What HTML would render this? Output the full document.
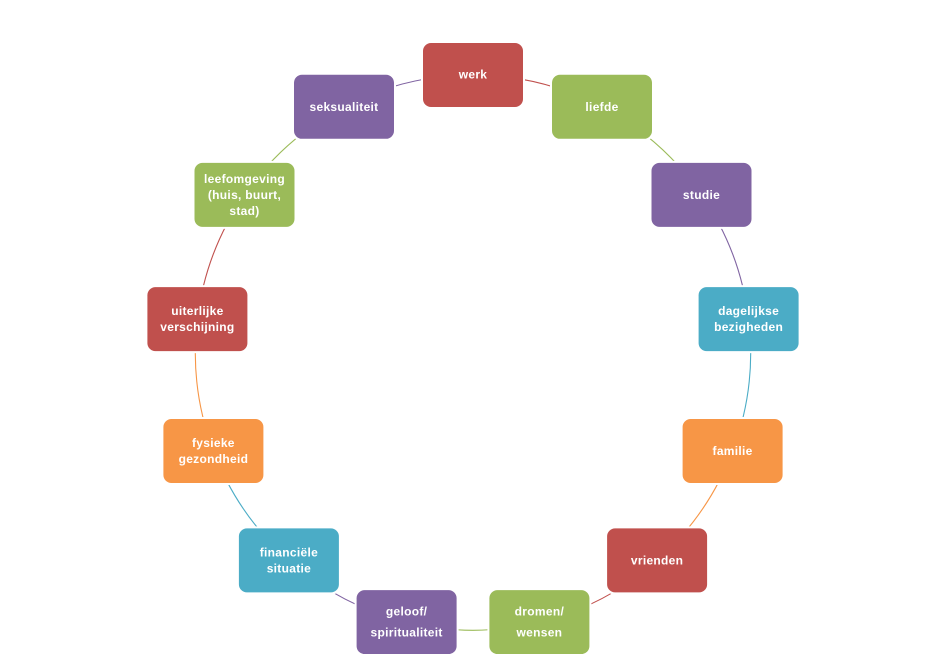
<!DOCTYPE html>
<html>
<head>
<meta charset="utf-8">
<style>
html,body{margin:0;padding:0;background:#fff;}
svg{display:block;}
text{font-family:"Liberation Sans",Arial,sans-serif;font-weight:bold;font-size:12px;fill:#fff;text-anchor:middle;letter-spacing:0.3px;}
</style>
</head>
<body>
<svg width="946" height="654" viewBox="0 0 946 654" xmlns="http://www.w3.org/2000/svg">
<g fill="none" stroke-width="1.1">
<path d="M473.0 75.0 A277.6 277.6 0 0 1 602.0 106.8" stroke="#C0504D"/>
<path d="M602.0 106.8 A277.6 277.6 0 0 1 701.5 194.9" stroke="#9BBB59"/>
<path d="M701.5 194.9 A277.6 277.6 0 0 1 748.6 319.1" stroke="#8064A2"/>
<path d="M748.6 319.1 A277.6 277.6 0 0 1 732.6 451.0" stroke="#4BACC6"/>
<path d="M732.6 451.0 A277.6 277.6 0 0 1 657.1 560.4" stroke="#F79646"/>
<path d="M657.1 560.4 A277.6 277.6 0 0 1 539.4 622.1" stroke="#C0504D"/>
<path d="M539.4 622.1 A277.6 277.6 0 0 1 406.6 622.1" stroke="#9BBB59"/>
<path d="M406.6 622.1 A277.6 277.6 0 0 1 288.9 560.4" stroke="#8064A2"/>
<path d="M288.9 560.4 A277.6 277.6 0 0 1 213.4 451.0" stroke="#4BACC6"/>
<path d="M213.4 451.0 A277.6 277.6 0 0 1 197.4 319.1" stroke="#F79646"/>
<path d="M197.4 319.1 A277.6 277.6 0 0 1 244.5 194.9" stroke="#C0504D"/>
<path d="M244.5 194.9 A277.6 277.6 0 0 1 344.0 106.8" stroke="#9BBB59"/>
<path d="M344.0 106.8 A277.6 277.6 0 0 1 473.0 75.0" stroke="#8064A2"/>
</g>
<g fill="#fff">
<rect x="421" y="41" width="104" height="68" rx="9"/>
<rect x="550" y="72.8" width="104" height="68" rx="9"/>
<rect x="649.5" y="160.9" width="104" height="68" rx="9"/>
<rect x="696.6" y="285.1" width="104" height="68" rx="9"/>
<rect x="680.6" y="417" width="104" height="68" rx="9"/>
<rect x="605.1" y="526.4" width="104" height="68" rx="9"/>
<rect x="487.4" y="588.1" width="104" height="68" rx="9"/>
<rect x="354.6" y="588.1" width="104" height="68" rx="9"/>
<rect x="236.9" y="526.4" width="104" height="68" rx="9"/>
<rect x="161.4" y="417" width="104" height="68" rx="9"/>
<rect x="145.4" y="285.1" width="104" height="68" rx="9"/>
<rect x="192.5" y="160.9" width="104" height="68" rx="9"/>
<rect x="292" y="72.8" width="104" height="68" rx="9"/>
</g>
<rect x="423" y="43" width="100" height="64" rx="8" fill="#C0504D"/>
<rect x="552" y="74.8" width="100" height="64" rx="8" fill="#9BBB59"/>
<rect x="651.5" y="162.9" width="100" height="64" rx="8" fill="#8064A2"/>
<rect x="698.6" y="287.1" width="100" height="64" rx="8" fill="#4BACC6"/>
<rect x="682.6" y="419" width="100" height="64" rx="8" fill="#F79646"/>
<rect x="607.1" y="528.4" width="100" height="64" rx="8" fill="#C0504D"/>
<rect x="489.4" y="590.1" width="100" height="64" rx="8" fill="#9BBB59"/>
<rect x="356.6" y="590.1" width="100" height="64" rx="8" fill="#8064A2"/>
<rect x="238.9" y="528.4" width="100" height="64" rx="8" fill="#4BACC6"/>
<rect x="163.4" y="419" width="100" height="64" rx="8" fill="#F79646"/>
<rect x="147.4" y="287.1" width="100" height="64" rx="8" fill="#C0504D"/>
<rect x="194.5" y="162.9" width="100" height="64" rx="8" fill="#9BBB59"/>
<rect x="294" y="74.8" width="100" height="64" rx="8" fill="#8064A2"/>

<text x="473" y="78.5">werk</text>
<text x="602" y="110.8">liefde</text>
<text x="701.5" y="198.9">studie</text>
<text x="748.6" y="315.1">dagelijkse</text>
<text x="748.6" y="331.1">bezigheden</text>
<text x="732.6" y="455">familie</text>
<text x="657.1" y="564.4">vrienden</text>
<text x="539.4" y="615.6">dromen/</text>
<text x="539.4" y="636.6">wensen</text>
<text x="406.6" y="615.6">geloof/</text>
<text x="406.6" y="636.6">spiritualiteit</text>
<text x="288.9" y="556.4">financiële</text>
<text x="288.9" y="572.4">situatie</text>
<text x="213.4" y="447">fysieke</text>
<text x="213.4" y="463">gezondheid</text>
<text x="197.4" y="315.1">uiterlijke</text>
<text x="197.4" y="331.1">verschijning</text>
<text x="244.5" y="182.9">leefomgeving</text>
<text x="244.5" y="198.9">(huis, buurt,</text>
<text x="244.5" y="214.9">stad)</text>
<text x="344" y="110.8">seksualiteit</text>
</svg>
</body>
</html>
